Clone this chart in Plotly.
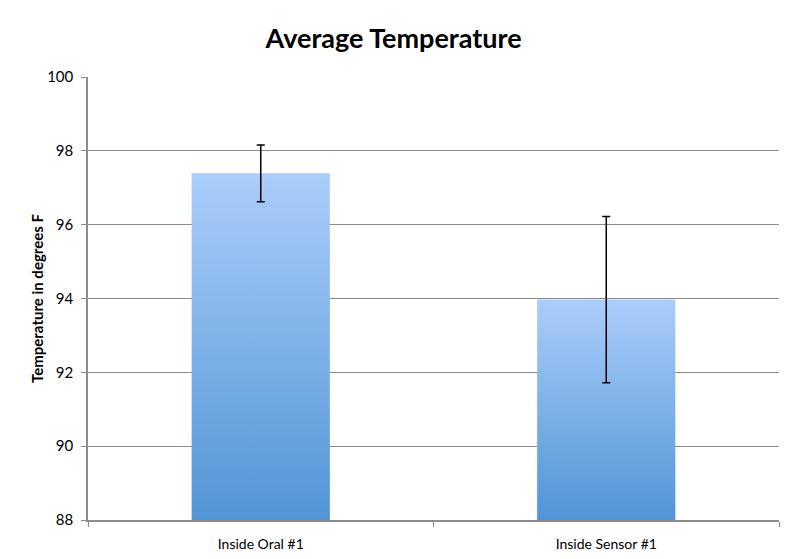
import plotly.graph_objects as go

categories = ["Inside Oral #1", "Inside Sensor #1"]
averages = [97.39, 93.97]
errors = [0.77, 2.25]
y_ticks = [88, 90, 92, 94, 96, 98, 100]

base = 88
bar_width = 0.40
light = "#abcdfa"
dark = "#5195d6"
font = "Lato"

fig = go.Figure()

# excel style gradient bars, drawn as filled shapes on a numeric axis
for i, (cat, val) in enumerate(zip(categories, averages)):
    x0, x1 = i - bar_width / 2, i + bar_width / 2
    fig.add_trace(go.Scatter(
        x=[x0, x1, x1, x0, x0], y=[base, base, val, val, base],
        mode="lines", line=dict(width=0), fill="toself",
        fillgradient=dict(type="vertical", start=base, stop=val,
                          colorscale=[[0, dark], [1, light]]),
        hoverinfo="skip", showlegend=False, name=cat))

fig.add_trace(go.Scatter(
    x=list(range(len(categories))), y=averages, mode="markers",
    marker=dict(size=1, color="rgba(0,0,0,0)"),
    error_y=dict(type="data", array=errors, color="black", thickness=1.5, width=4),
    showlegend=False))

# page seems offset ~7px, margins tuned so plot area sits at 87..778 x 76..519
fig.update_layout(
    width=800, height=559,
    paper_bgcolor="white", plot_bgcolor="white",
    margin=dict(l=80, r=29, t=69, b=47),
    title=dict(text="<b>Average Temperature</b>", x=0.482, xanchor="center",
               y=1 - 31 / 559, yanchor="middle",
               font=dict(family=font, size=27, color="black")),
    font=dict(family=font, size=14, color="black"),
)

fig.update_xaxes(
    range=[-0.5, len(categories) - 0.5],
    tickmode="array", tickvals=list(range(len(categories))), ticktext=categories,
    ticks="", showgrid=False, zeroline=False,
    showline=True, linecolor="#8c8c8c", linewidth=1.5,
    minor=dict(tickmode="array", tickvals=[-0.5, 0.5, 1.5], ticks="outside",
               ticklen=5, tickcolor="#8c8c8c", showgrid=False),
    tickfont=dict(size=14), ticklabelstandoff=10, fixedrange=True,
)
fig.update_yaxes(
    range=[88, 100], tickmode="array", tickvals=y_ticks,
    ticks="outside", ticklen=5, tickcolor="#8c8c8c",
    showgrid=True, gridcolor="#8c8c8c", gridwidth=1.2,
    showline=True, linecolor="#8c8c8c", linewidth=1.5, zeroline=False,
    tickfont=dict(size=15), ticklabelstandoff=5,
    title=dict(text="<b>Temperature in degrees F</b>", font=dict(size=15), standoff=0),
)

fig.write_html("out.html")
